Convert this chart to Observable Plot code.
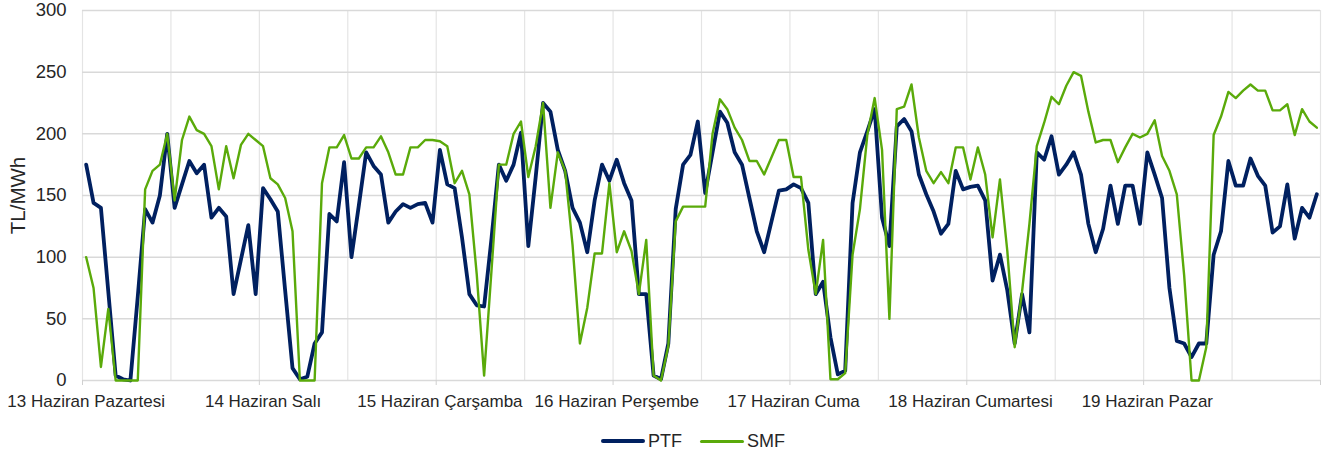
<!DOCTYPE html>
<html><head><meta charset="utf-8">
<script src="https://cdn.jsdelivr.net/npm/d3@7"></script>
<script src="https://cdn.jsdelivr.net/npm/@observablehq/plot@0.6"></script>
<style>
body{margin:0;background:#fff;width:1327px;height:456px;overflow:hidden;font-family:"Liberation Sans",Arial,sans-serif;}
#chart{position:relative;height:425px;}
#legend{position:absolute;top:430px;left:601px;height:22px;display:flex;align-items:center;font-size:18px;color:#262626;}
#legend .item{display:flex;align-items:center;margin-right:18px;}
#legend .sw{display:inline-block;width:44px;margin-right:3px;border-radius:2px;}
</style></head><body>
<div id="chart"></div>
<div id="legend"></div>
<script>
const days = ["13 Haziran Pazartesi", "14 Haziran Salı", "15 Haziran Çarşamba", "16 Haziran Perşembe", "17 Haziran Cuma", "18 Haziran Cumartesi", "19 Haziran Pazar"];
const seriesNames = ["PTF", "SMF"];
const yTicks = [0, 50, 100, 150, 200, 250, 300];

const ptf = [
  175, 144, 140, 72, 4, 1, 0, 68, 139, 128, 150, 200, 140, 159, 178, 168, 175, 132, 140, 133, 70, 98, 126, 70,
  156, 147, 137, 73, 10, 1, 3, 30, 39, 135, 129, 177, 100, 142, 185, 174, 167, 128, 137, 143, 140, 143, 144, 128,
  187, 159, 156, 116, 70, 61, 60, 115, 175, 162, 175, 201, 109, 165, 225, 218, 187, 170, 140, 128, 104, 146, 175, 162,
  179, 160, 146, 70, 70, 4, 1, 30, 139, 175, 183, 210, 152, 185, 218, 209, 185, 175, 148, 121, 104, 129, 154, 155,
  159, 156, 144, 70, 80, 35, 5, 8, 144, 185, 202, 220, 132, 109, 206, 212, 202, 167, 151, 137, 119, 127, 170, 155,
  157, 158, 146, 81, 102, 73, 30, 70, 39, 185, 179, 198, 167, 175, 185, 167, 127, 104, 123, 158, 127, 158, 158, 127,
  185, 167, 148, 75, 32, 30, 19, 30, 30, 102, 121, 178, 158, 158, 180, 166, 158, 120, 125, 159, 115, 140, 132, 151
];
const smf = [
  100, 75, 11, 58, 0, 0, 0, 0, 155, 170, 175, 200, 146, 195, 214, 203, 200, 190, 155, 190, 164, 191, 200, 195,
  190, 164, 159, 148, 121, 0, 0, 0, 160, 189, 189, 199, 180, 180, 189, 189, 198, 185, 167, 167, 189, 189, 195, 195,
  194, 190, 160, 170, 151, 86, 4, 89, 175, 175, 200, 210, 165, 190, 225, 140, 185, 170, 110, 30, 59, 103, 103, 160,
  104, 121, 105, 70, 114, 4, 0, 28, 129, 141, 141, 141, 141, 200, 228, 220, 205, 195, 178, 178, 167, 181, 195, 195,
  165, 165, 106, 70, 114, 1, 1, 6, 102, 139, 199, 229, 187, 50, 220, 222, 240, 197, 170, 160, 169, 160, 189, 189,
  163, 189, 167, 116, 163, 105, 27, 72, 127, 190, 209, 230, 224, 239, 250, 247, 218, 193, 195, 195, 177, 189, 200, 197,
  200, 211, 182, 170, 151, 85, 0, 0, 27, 199, 214, 234, 229, 235, 240, 235, 235, 219, 219, 224, 199, 220, 210, 205
];
const colors = ["#002060", "#5aaa0a"];

const rows = ptf.map((v, i) => ({hour: i, PTF: v, SMF: smf[i]}));
const nHours = ptf.length;
const grid12 = d3.range(0, nHours + 1, 12).map(h => h - 0.5);
const dayEdges = d3.range(0, nHours + 1, 24).map(h => h - 0.5);
const labelPos = days.map((d, k) => 24 * k);

const chart = Plot.plot({
  width: 1327, height: 425,
  marginLeft: 82, marginRight: 7, marginTop: 10, marginBottom: 45,
  style: {fontFamily: "'Liberation Sans', Arial, sans-serif", color: "#262626", background: "#fff", overflow: "visible"},
  x: {domain: [-0.5, nHours - 0.5], label: null},
  y: {domain: [0, 300], label: null},
  marks: [
    Plot.ruleX(grid12, {stroke: "#e4e4e4", strokeWidth: 1.2}),
    Plot.ruleY(yTicks, {stroke: "#d9d9d9", strokeWidth: 1.5}),
    Plot.axisX(dayEdges, {tickSize: 5, tickFormat: () => "", stroke: "#d0d0d0", label: null}),
    Plot.axisX(labelPos, {tickSize: 0, tickPadding: 14, tickFormat: d => days[d / 24], fontSize: 17, label: null}),
    Plot.axisY(yTicks, {tickSize: 0, tickPadding: 16, fontSize: 18.5, label: null}),
    Plot.text(["TL/MWh"], {frameAnchor: "left", rotate: -90, dx: -64, textAnchor: "middle", fontSize: 20.5, fill: "#262626"}),
    Plot.line(rows, {x: "hour", y: "PTF", stroke: colors[0], strokeWidth: 3.8}),
    Plot.line(rows, {x: "hour", y: "SMF", stroke: colors[1], strokeWidth: 2.4})
  ]
});
document.getElementById("chart").appendChild(chart);

const legend = document.getElementById("legend");
seriesNames.forEach((name, k) => {
  const item = document.createElement("span");
  item.className = "item";
  const sw = document.createElement("span");
  sw.className = "sw";
  sw.style.height = k === 0 ? "4px" : "3px";
  sw.style.background = colors[k];
  const t = document.createElement("span");
  t.textContent = name;
  item.appendChild(sw); item.appendChild(t);
  legend.appendChild(item);
});
</script></body></html>
